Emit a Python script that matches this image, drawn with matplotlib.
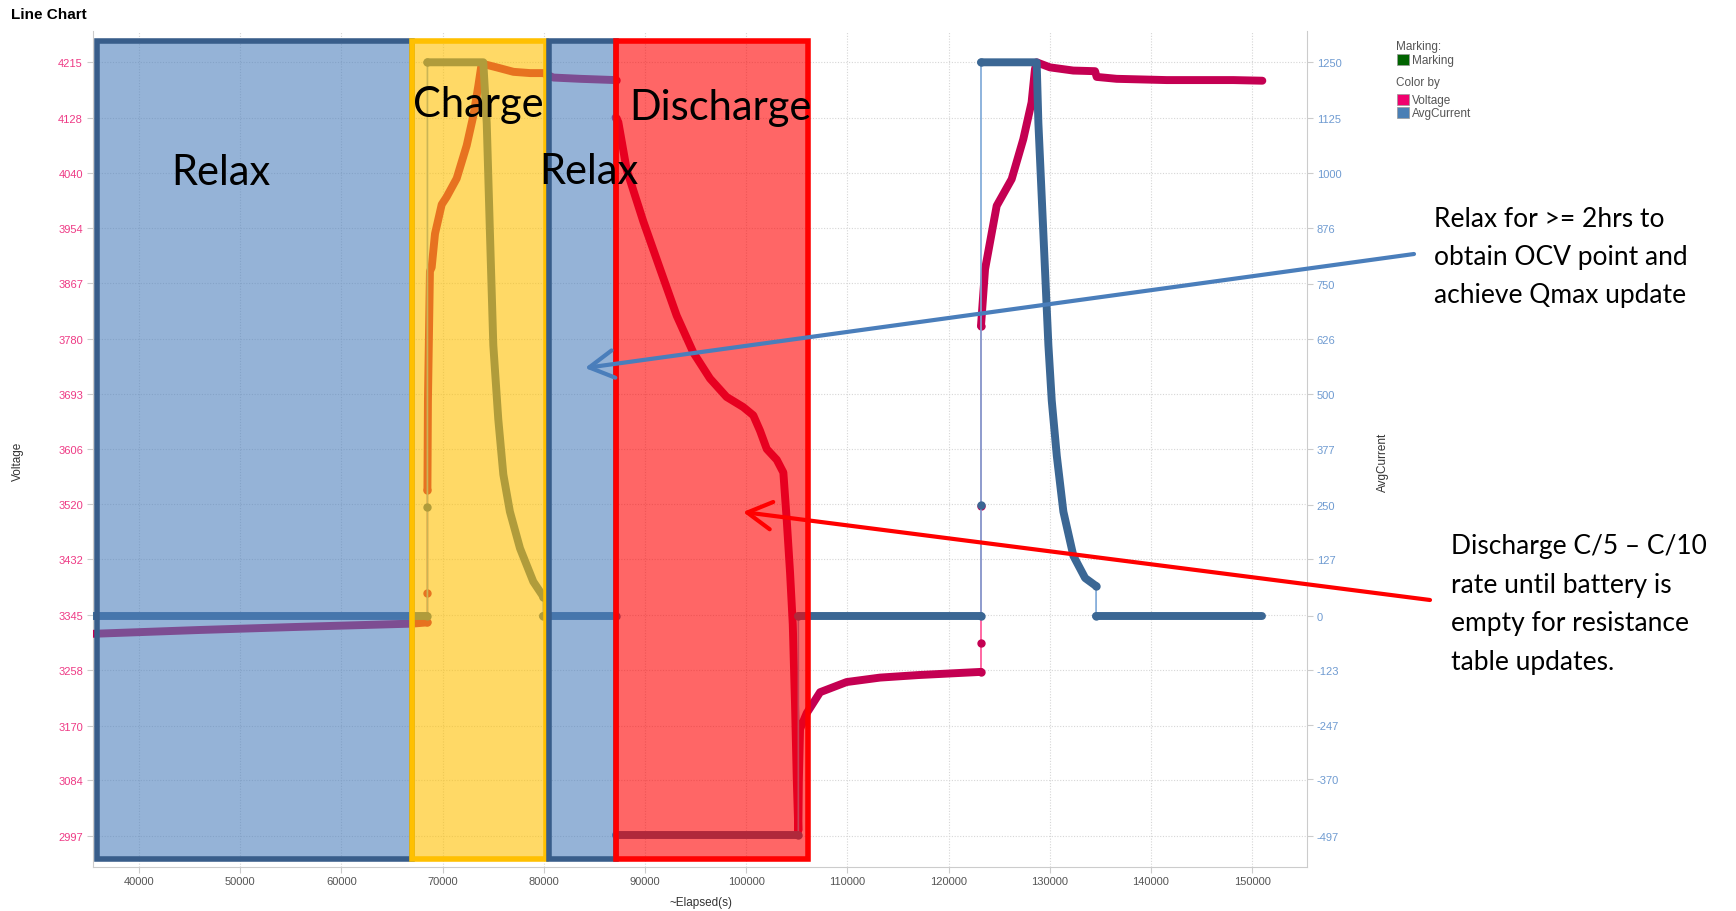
import numpy as np
import matplotlib
matplotlib.use("Agg")
from matplotlib import pyplot as plt
from matplotlib.patches import Rectangle, FancyArrowPatch

plt.rcParams['font.family'] = ['Liberation Sans', 'DejaVu Sans']

# values
volt_x = [35500, 46000, 56000, 67000, 68500, 68500, 68500, 68550, 68750, 68920,
          69250, 69910, 70400, 71390, 72380, 73040, 73530, 73860, 75350, 77000,
          78650, 79950, 80940, 83580, 87090, 87090, 87360, 88190, 89840, 91480,
          93130, 94770, 96420, 98060, 99710, 100700, 101360, 102030, 103020, 103670,
          104000, 104330, 104600, 104820, 105000, 105150, 105200, 105320, 105980, 107300,
          109920, 113220, 117000, 123200, 123200, 123200, 123200, 123600, 124750, 126230,
          127380, 128200, 128530, 128700, 130020, 132320, 134470, 134630, 136600, 141550,
          148130, 151000]
volt_y = [3315, 3321, 3326, 3331, 3333, 3379, 3542, 3682, 3886, 3892,
          3945, 3991, 4003, 4032, 4084, 4131, 4178, 4213, 4207, 4200,
          4198, 4198, 4191, 4189, 4187, 4128, 4121, 4046, 3964, 3890,
          3816, 3758, 3717, 3688, 3672, 3659, 3635, 3606, 3589, 3569,
          3495, 3412, 3330, 3206, 3083, 3005, 3083, 3165, 3190, 3223,
          3239, 3246, 3250, 3255, 3300, 3516, 3800, 3889, 3989, 4031,
          4094, 4152, 4204, 4215, 4207, 4202, 4201, 4192, 4189, 4187,
          4187, 4186]

cur_x = [35500, 68500, 68500, 68500, 74020, 74360, 74680, 75010, 75500, 76000,
         76650, 77650, 78960, 79950, 79950, 87090, 87090, 105150, 105150, 123200,
         123200, 123200, 128700, 128870, 129200, 129530, 129860, 130190, 130690, 131340,
         132330, 133490, 134570, 134570, 151000]
cur_y = [0, 0, 246, 1250, 1250, 1113, 862, 611, 444, 319,
         235, 152, 77, 43, 0, 0, -495, -495, 0, 0,
         250, 1250, 1250, 1113, 946, 778, 611, 486, 361, 235,
         135, 85, 67, 0, 0]

volt_ticks = [2997, 3084, 3170, 3258, 3345, 3432, 3520, 3606, 3693, 3780, 3867, 3954, 4040, 4128, 4215]
cur_ticks = [-497, -370, -247, -123, 0, 127, 250, 377, 500, 626, 750, 876, 1000, 1125, 1250]
x_ticks = list(range(40000, 150001, 10000))

phase_names = ['Relax', 'Charge', 'Relax', 'Discharge']
phase_start = [35850, 66930, 80470, 87090]
phase_end = [66930, 80170, 87090, 106130]
phase_fill = ['#4f81bd', '#ffc000', '#4f81bd', '#ff0000']
phase_edge = ['#385d8a', '#ffc000', '#385d8a', '#ff0000']
phase_low, phase_high = 2960, 4248


def draw_series(ax, xs, ys, dark, light):
    xs = np.asarray(xs)
    ys = np.asarray(ys)
    ax.plot(xs, ys, color=light, lw=1.2, zorder=2)
    jump = np.diff(xs) == 0
    start = 0
    for i, j in enumerate(jump):
        if j:
            if i > start:
                ax.plot(xs[start:i + 1], ys[start:i + 1], color=dark, lw=5.7,
                        solid_capstyle='round', solid_joinstyle='round', zorder=3)
            start = i + 1
    if len(xs) - 1 > start:
        ax.plot(xs[start:], ys[start:], color=dark, lw=5.7,
                solid_capstyle='round', solid_joinstyle='round', zorder=3)
    idx = sorted(set(np.where(jump)[0]) | set(np.where(jump)[0] + 1))
    ax.plot(xs[idx], ys[idx], 'o', color=dark, ms=5, zorder=3)


W, H = 1736, 912
fig = plt.figure(figsize=(W / 100, H / 100), dpi=100)
ax = fig.add_axes([92.7 / W, 1 - 867.7 / H, (1307 - 92.7) / W, (867.7 - 32) / H])
ax2 = ax.twinx()

ax.set_axisbelow(True)
ax.grid(True, linestyle=(0, (1, 1.5)), color='#d6d6d6', lw=0.8)

draw_series(ax, volt_x, volt_y, '#c40052', '#ff4f93')
draw_series(ax2, cur_x, cur_y, '#3b6794', '#7ba7d7')

# coloured phase boxes over the lines
for s, e, fc, ec in zip(phase_start, phase_end, phase_fill, phase_edge):
    rgb = matplotlib.colors.to_rgb(fc)
    ax2.add_patch(Rectangle((s, phase_low), e - s, phase_high - phase_low,
                            transform=ax.transData, facecolor=(*rgb, 0.6),
                            edgecolor=ec, lw=4, joinstyle='miter', zorder=5))

ax.set_xlim(35425, 155413)
ax.set_ylim(2948.2, 4264.3)
ax2.set_ylim(-567, 1320.7)
ax.set_xticks(x_ticks)
ax.set_xticklabels([str(v) for v in x_ticks])
ax.set_yticks(volt_ticks)
ax.set_yticklabels([str(v) for v in volt_ticks])
ax2.set_yticks(cur_ticks)
ax2.set_yticklabels([str(v) for v in cur_ticks])

ax.tick_params(axis='y', colors='#cccccc', labelcolor='#ee3a85', length=4, labelsize=8, pad=3)
ax2.tick_params(axis='y', colors='#cccccc', labelcolor='#6f9bd1', length=4, labelsize=8, pad=3)
ax.tick_params(axis='x', colors='#cccccc', labelcolor='#555555', length=4, labelsize=8, pad=3)
for a in (ax, ax2):
    a.spines['top'].set_visible(False)
ax.spines['right'].set_visible(False)
ax2.spines['left'].set_visible(False)
ax2.spines['bottom'].set_visible(False)
ax.spines['left'].set_color('#cccccc')
ax.spines['bottom'].set_color('#cccccc')
ax2.spines['right'].set_color('#cccccc')

# chart texts
fig.text(10.7 / W, 1 - 19 / H, 'Line Chart', fontsize=11, fontweight='bold', va='baseline')
fig.text(17.5 / W, 1 - 461 / H, 'Voltage', rotation=90, fontsize=8.5, color='#333333',
         ha='center', va='center')
fig.text(1383 / W, 1 - 462 / H, 'AvgCurrent', rotation=90, fontsize=8.5, color='#333333',
         ha='center', va='center')
fig.text(701 / W, 1 - 903 / H, '~Elapsed(s)', fontsize=8.5, color='#333333',
         ha='center', va='center')

# legend
leg = [('Marking:', None, 50), ('Marking', '#006400', 64.3), ('Color by', None, 86.3),
       ('Voltage', '#f0006e', 104), ('AvgCurrent', '#4a7fb5', 117.3)]
for label, col, base in leg:
    if col is None:
        fig.text(1396 / W, 1 - base / H, label, fontsize=8.5, color='#555555', va='baseline')
    else:
        fig.add_artist(Rectangle((1397.3 / W, 1 - (base + 1.7) / H), 11.4 / W, 11.2 / H,
                                 transform=fig.transFigure, facecolor=col,
                                 edgecolor='#999999', lw=0.5))
        fig.text(1411.7 / W, 1 - base / H, label, fontsize=8.5, color='#555555', va='baseline')

# phase labels
big = dict(family=['Lato', 'DejaVu Sans'], fontsize=30, color='black',
           ha='center', va='baseline', zorder=10)
phase_pos = [(221, 185), (478.5, 117.3), (589, 184), (720, 120)]
for name, (px, py) in zip(phase_names, phase_pos):
    fig.text(px / W, 1 - py / H, name, **big)

# notes and arrows
note_relax = ['Relax for >= 2hrs to', 'obtain OCV point and', 'achieve Qmax update']
note_dis = ['Discharge C/5 \u2013 C/10', 'rate until battery is', 'empty for resistance',
            'table updates.']
for i, line in enumerate(note_relax):
    fig.text(1434 / W, 1 - (226.7 + 38 * i) / H, line, family=['Lato', 'DejaVu Sans'],
             fontsize=19, va='baseline')
for i, line in enumerate(note_dis):
    fig.text(1450.7 / W, 1 - (554.5 + 38.4 * i) / H, line, family=['Lato', 'DejaVu Sans'],
             fontsize=19, va='baseline')

for (x0, y0), (x1, y1), col in [((1414, 255), (585, 369), '#4a7ebb'),
                                ((1430, 601), (743, 513), '#ff0000')]:
    fig.add_artist(FancyArrowPatch((x0 / W, 1 - y0 / H), (x1 / W, 1 - y1 / H),
                                   transform=fig.transFigure,
                                   arrowstyle='->,head_length=0.8,head_width=0.45',
                                   mutation_scale=22, lw=3, color=col,
                                   shrinkA=0, shrinkB=0, zorder=11))

plt.savefig("out.png", dpi=100)
plt.close(fig)
